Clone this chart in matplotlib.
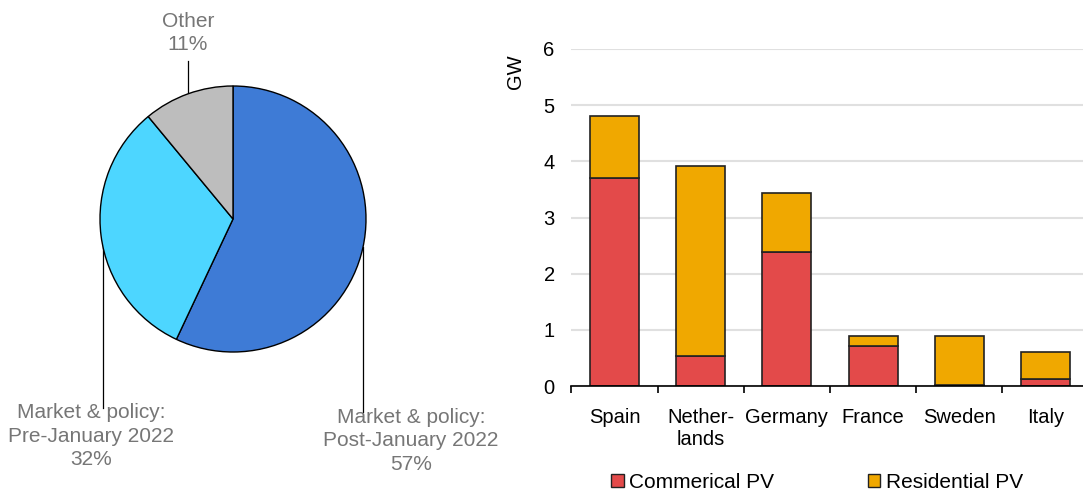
import numpy as np
import matplotlib.pyplot as plt
from matplotlib.patches import Patch

plt.rcParams["font.family"] = ["Liberation Sans", "DejaVu Sans"]

# pie data
pie_labels = ["Market & policy:\nPost-January 2022\n57%",
              "Market & policy:\nPre-January 2022\n32%",
              "Other\n11%"]
pie_shares = [57, 32, 11]
pie_colors = ["#3e7bd6", "#4dd6ff", "#bdbdbd"]

# bar data (GW)
countries = ["Spain", "Nether-\nlands", "Germany", "France", "Sweden", "Italy"]
commercial = [3.70, 0.53, 2.38, 0.71, 0.01, 0.12]
residential = [1.10, 3.38, 1.05, 0.18, 0.88, 0.48]

red = "#e34a4a"
yellow = "#f0a800"
grey_txt = "#767676"

W, H = 1083, 491
fig = plt.figure(figsize=(W / 100, H / 100), dpi=100)

# ---- pie, axes in pixel units ----
axp = fig.add_axes([0, 0, 500 / W, 1])
cx, cy, r = 233, H - 219, 133
axp.pie(pie_shares, colors=pie_colors, startangle=90, counterclock=False,
        center=(cx, cy), radius=r, frame=True,
        wedgeprops=dict(edgecolor="black", linewidth=1.0))
axp.set_xlim(0, 500)
axp.set_ylim(0, H)
axp.set_aspect("equal")
axp.axis("off")

# leader lines + labels
axp.plot([363, 363], [H - 247, H - 412], color="black", lw=0.9, zorder=0)
axp.plot([103, 103], [H - 245, H - 408], color="black", lw=0.9, zorder=0)
axp.plot([188, 188], [H - 61, H - 94], color="black", lw=0.9, zorder=0)
axp.text(411, H - 441, pie_labels[0], ha="center", va="center",
         fontsize=15, color=grey_txt, linespacing=1.28)
axp.text(91, H - 436, pie_labels[1], ha="center", va="center",
         fontsize=15, color=grey_txt, linespacing=1.28)
axp.text(188, H - 33, pie_labels[2], ha="center", va="center",
         fontsize=15, color=grey_txt, linespacing=1.28)

# ---- stacked bars ----
left = 571.4
step = 86.2
bottom_px = 386
top_px = 49
ax = fig.add_axes([left / W, (H - bottom_px) / H, 6 * step / W,
                   (bottom_px - top_px) / H])
x = np.arange(len(countries))
ax.bar(x, commercial, width=0.57, color=red, edgecolor="#222222",
       linewidth=1.2, zorder=3)
ax.bar(x, residential, width=0.57, bottom=commercial, color=yellow,
       edgecolor="#222222", linewidth=1.2, zorder=3)
ax.set_xlim(-0.5, 5.5)
ax.set_ylim(0, 6)
ax.set_yticks(range(7))
ax.grid(axis="y", color="#e0e0e0", linewidth=1.5, zorder=0)
for s in ["top", "right", "left"]:
    ax.spines[s].set_visible(False)
ax.spines["bottom"].set_linewidth(1.2)
ax.spines["bottom"].set_zorder(4)
ax.set_xticks(x)
ax.set_xticklabels(countries, fontsize=14.5, linespacing=1.2)
ax.set_xticks(np.arange(-0.5, 6, 1), minor=True)
ax.tick_params(axis="x", which="major", length=0, pad=16)
ax.tick_params(axis="x", which="minor", length=5, width=1.2, direction="out")
ax.tick_params(axis="y", length=0, pad=12, labelsize=14.5)
fig.text(515 / W, 1 - 72 / H, "GW", rotation=90, ha="center", va="center",
         fontsize=14.5)

handles = [Patch(facecolor=red, edgecolor="#222222", linewidth=1.0),
           Patch(facecolor=yellow, edgecolor="#222222", linewidth=1.0)]
fig.legend(handles, ["Commerical PV", "Residential PV"], loc="center",
           bbox_to_anchor=(817 / W, 1 - 482 / H), ncol=2, frameon=False,
           fontsize=15, handlelength=0.6, handleheight=0.6,
           handletextpad=0.25, columnspacing=4.5)

fig.savefig("out.png", dpi=100)
